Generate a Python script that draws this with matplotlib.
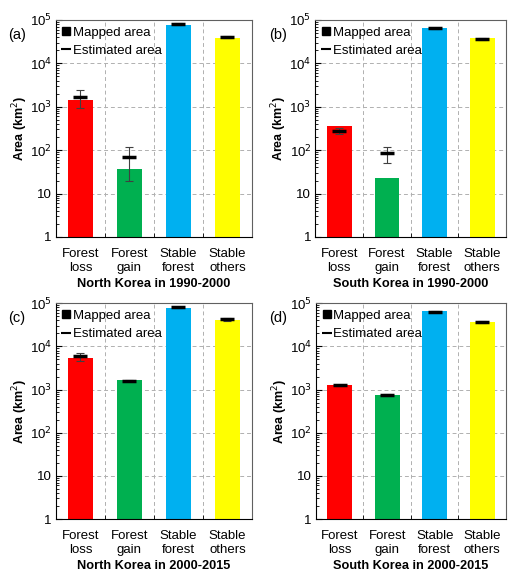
import matplotlib
matplotlib.use('Agg')
import matplotlib.pyplot as plt
from matplotlib.lines import Line2D
from matplotlib.ticker import FixedLocator, FixedFormatter, LogLocator, NullFormatter
import numpy as np

plt.rcParams['font.family'] = ['Liberation Sans', 'DejaVu Sans']

categories = ['Forest\nloss', 'Forest\ngain', 'Stable\nforest', 'Stable\nothers']
colors = ['#FF0000', '#00B050', '#00B0F0', '#FFFF00']
panel_labels = ['(a)', '(b)', '(c)', '(d)']
titles = ['North Korea in 1990-2000', 'South Korea in 1990-2000',
          'North Korea in 2000-2015', 'South Korea in 2000-2015']

# mapped area (bars), km2
mapped_nk_9000 = [1430, 37, 78000, 39000]
mapped_sk_9000 = [358, 23, 64000, 38000]
mapped_nk_0015 = [5400, 1650, 79000, 40000]
mapped_sk_0015 = [1270, 750, 65000, 36000]
# estimated area with lower / upper bounds
est_nk_9000 = [1720, 69, 80000, 41000]
low_nk_9000 = [920, 20, 77000, 39000]
high_nk_9000 = [2500, 118, 83000, 43000]
est_sk_9000 = [280, 84, 64000, 37000]
low_sk_9000 = [240, 51, 62000, 35000]
high_sk_9000 = [330, 119, 66000, 39000]
est_nk_0015 = [5900, 1600, 80000, 42000]
low_nk_0015 = [4700, 1550, 77000, 39500]
high_nk_0015 = [7200, 1660, 83000, 44500]
est_sk_0015 = [1250, 740, 63000, 37000]
low_sk_0015 = [1200, 700, 61000, 34500]
high_sk_0015 = [1300, 780, 65000, 39500]

mapped = [mapped_nk_9000, mapped_sk_9000, mapped_nk_0015, mapped_sk_0015]
est = [est_nk_9000, est_sk_9000, est_nk_0015, est_sk_0015]
low = [low_nk_9000, low_sk_9000, low_nk_0015, low_sk_0015]
high = [high_nk_9000, high_sk_9000, high_nk_0015, high_sk_0015]

fig = plt.figure(figsize=(5.08, 5.71), dpi=100)
pos = [[0.110, 0.585, 0.386, 0.380], [0.621, 0.585, 0.375, 0.380],
       [0.110, 0.091, 0.386, 0.378], [0.622, 0.091, 0.374, 0.378]]

x = np.arange(4)
for i in range(4):
    ax = fig.add_axes(pos[i])
    ax.set_yscale('log')
    ax.set_ylim(1, 1e5)
    ax.set_xlim(-0.5, 3.5)
    ax.bar(x, mapped[i], width=0.52, color=colors, zorder=2)
    e = np.array(est[i])
    yerr = [e - np.array(low[i]), np.array(high[i]) - e]
    ax.errorbar(x, e, yerr=yerr, fmt='none', ecolor='#404040', elinewidth=0.8,
                capsize=3, capthick=0.8, zorder=3)
    ax.plot(x, e, ls='none', marker='_', markersize=10, mew=2.5, color='black', zorder=4)

    ax.yaxis.set_major_locator(FixedLocator([1, 10, 100, 1e3, 1e4, 1e5]))
    ax.yaxis.set_major_formatter(FixedFormatter(['1', '10', '10$^2$', '10$^3$', '10$^4$', '10$^5$']))
    ax.yaxis.set_minor_locator(LogLocator(base=10, subs=np.arange(2, 10)))
    ax.yaxis.set_minor_formatter(NullFormatter())
    ax.set_xticks(x)
    ax.set_xticklabels(categories, fontsize=9.5, linespacing=1.2)
    ax.set_xticks([0.5, 1.5, 2.5], minor=True)
    ax.tick_params(axis='x', which='major', length=0, pad=8)
    ax.tick_params(axis='x', which='minor', direction='in', length=3)
    ax.tick_params(axis='y', which='major', direction='in', length=4, labelsize=9.5, pad=3)
    ax.tick_params(axis='y', which='minor', direction='in', length=2)
    ax.grid(axis='y', which='major', color='#b0b0b0', ls=(0, (4, 3)), lw=0.7, zorder=0)
    ax.grid(axis='x', which='minor', color='#b0b0b0', ls=(0, (4, 3)), lw=0.7, zorder=0)
    ax.set_axisbelow(True)
    for s in ['top', 'right']:
        ax.spines[s].set_color('#606060')
    ax.set_ylabel('Area (km$^2$)', fontsize=9, fontweight='bold', labelpad=0)
    ax.set_xlabel(titles[i], fontsize=9.2, fontweight='bold', labelpad=3)
    ax.text(-0.245, 0.93, panel_labels[i], transform=ax.transAxes, fontsize=10.5,
            ha='left', va='center')
    handles = [Line2D([], [], ls='none', marker='s', markersize=5.5, color='black'),
               Line2D([], [], ls='none', marker='_', markersize=7, mew=1.5, color='black')]
    ax.legend(handles, ['Mapped area', 'Estimated area'], loc='upper left', frameon=False,
              fontsize=9.5, handlelength=0.6, handletextpad=0.2, borderaxespad=0.2,
              labelspacing=0.45, borderpad=0.3)

fig.savefig('out.png', dpi=100)
